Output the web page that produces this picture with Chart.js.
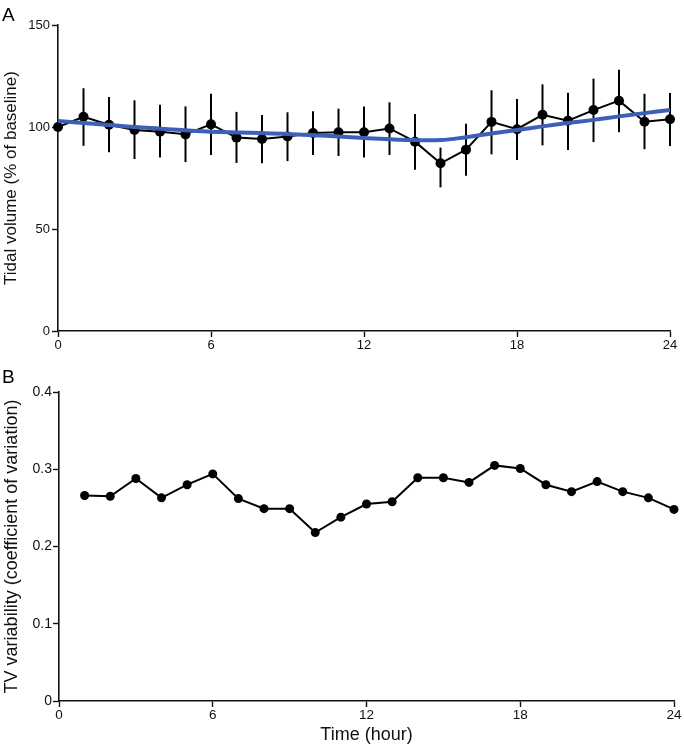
<!DOCTYPE html>
<html>
<head>
<meta charset="utf-8">
<script src="https://cdn.jsdelivr.net/npm/chart.js@4.4.1/dist/chart.umd.min.js"></script>
<style>
  html, body { margin: 0; padding: 0; background: #fff; }
  #wrap { position: relative; width: 684px; height: 746px; overflow: hidden; }
  canvas { position: absolute; left: 0; }
  #c1 { top: 0; }
  #c2 { top: 360px; }
</style>
</head>
<body>
<div id="wrap">
  <canvas id="c1" width="684" height="360"></canvas>
  <canvas id="c2" width="684" height="386"></canvas>
</div>
<script>
// ---- Data ----
const hours = [0,1,2,3,4,5,6,7,8,9,10,11,12,13,14,15,16,17,18,19,20,21,22,23,24];
const tidalVolume = [100, 105, 101.1, 98.5, 97.7, 96.4, 101.3, 94.8, 94.1, 95.3, 97.1, 97.4, 97.4, 99.3, 92.8, 82.2, 88.9, 102.5, 98.9, 106, 103.1, 108.3, 112.9, 102.6, 103.8];
const tidalUpper = [null, 119, 114.7, 113.1, 110.9, 110.1, 116.3, 107.4, 105.9, 107.2, 107.7, 109, 110, 112.1, 106.4, 89.9, 101.6, 118, 113.7, 120.9, 116.8, 123.7, 128.1, 116.3, 116.7];
const tidalLower = [null, 90.8, 87.6, 84.3, 85.1, 82.8, 86.3, 82.4, 82.2, 83.3, 86.3, 85.8, 85, 86.3, 79.1, 70.4, 76.1, 86.6, 83.8, 91, 88.7, 92.6, 97.4, 89.1, 90.7];
const tidalFit = [103, 102, 101, 100, 99.2, 98.4, 97.7, 97.3, 97, 96.6, 96, 95.3, 94.6, 94, 93.6, 93.6, 95, 96.8, 98.5, 100.3, 102, 103.5, 105.2, 106.8, 108.3];
const cvHours = [1,2,3,4,5,6,7,8,9,10,11,12,13,14,15,16,17,18,19,20,21,22,23,24];
const tvVariability = [0.266, 0.265, 0.288, 0.263, 0.280, 0.294, 0.262, 0.249, 0.249, 0.218, 0.238, 0.255, 0.258, 0.289, 0.289, 0.283, 0.305, 0.301, 0.280, 0.271, 0.284, 0.271, 0.263, 0.248];
const xTicks = [0, 6, 12, 18, 24];
const panelA = 'A';
const panelB = 'B';
const titleA = 'Tidal volume (% of baseline)';
const titleB = 'TV variability (coefficient of variation)';
const titleX = 'Time (hour)';

const FONT = '"Liberation Sans", Arial, Helvetica, sans-serif';
Chart.defaults.font.family = FONT;
Chart.defaults.color = '#111';

const toXY = (xs, ys) => xs.map((x, i) => ({x: x, y: ys[i]}));

function panelLabelPlugin(text, x, y) {
  return {
    id: 'panelLabel' + text,
    afterDraw(chart) {
      const ctx = chart.ctx;
      ctx.save();
      ctx.font = '19px ' + FONT;
      ctx.fillStyle = '#000';
      ctx.textAlign = 'left';
      ctx.textBaseline = 'alphabetic';
      ctx.fillText(text, x, y);
      ctx.restore();
    }
  };
}

const errorBarPlugin = {
  id: 'errorBars',
  beforeDatasetsDraw(chart) {
    const xs = chart.scales.x, ys = chart.scales.y, ctx = chart.ctx;
    ctx.save();
    ctx.strokeStyle = '#000';
    ctx.lineWidth = 2;
    hours.forEach((h, i) => {
      if (tidalUpper[i] == null || tidalLower[i] == null) return;
      const px = xs.getPixelForValue(h);
      ctx.beginPath();
      ctx.moveTo(px, ys.getPixelForValue(tidalUpper[i]));
      ctx.lineTo(px, ys.getPixelForValue(tidalLower[i]));
      ctx.stroke();
    });
    ctx.restore();
  }
};

function axisCommon(extra) {
  return Object.assign({
    border: { display: true, color: '#111', width: 1.6 },
    grid: { display: true, drawOnChartArea: false, drawTicks: true, tickLength: 6, tickColor: '#111', tickWidth: 1.4 },
  }, extra);
}

// ---- Chart A ----
new Chart(document.getElementById('c1'), {
  type: 'line',
  data: {
    datasets: [
      {
        label: 'Fit',
        data: toXY(hours, tidalFit),
        borderColor: '#3d5fb8',
        borderWidth: 4,
        pointRadius: 0,
        tension: 0.4,
        fill: false,
        order: 0,
        clip: false
      },
      {
        label: 'Tidal volume',
        data: toXY(hours, tidalVolume),
        borderColor: '#000',
        backgroundColor: '#000',
        borderWidth: 2,
        pointRadius: 5,
        pointBackgroundColor: '#000',
        pointBorderWidth: 0,
        tension: 0,
        fill: false,
        order: 1,
        clip: false
      }
    ]
  },
  options: {
    responsive: false,
    animation: false,
    layout: { padding: { left: 0, right: 14, top: 25, bottom: 0 } },
    plugins: { legend: { display: false }, tooltip: { enabled: false } },
    scales: {
      x: axisCommon({
        type: 'linear', min: 0, max: 24,
        afterBuildTicks: s => { s.ticks = xTicks.map(v => ({value: v})); },
        ticks: { font: { size: 13 }, padding: 1, color: '#111', maxRotation: 0 },
        afterFit: s => { s.height = 29; }
      }),
      y: axisCommon({
        type: 'linear', min: 0, max: 150,
        ticks: { stepSize: 50, font: { size: 13 }, padding: 2, color: '#111' },
        title: { display: true, text: titleA, font: { size: 17 }, padding: { top: 1, bottom: 0 }, color: '#111' },
        afterFit: s => { s.width = 58; }
      })
    }
  },
  plugins: [errorBarPlugin, panelLabelPlugin(panelA, 2, 21)]
});

// ---- Chart B ----
new Chart(document.getElementById('c2'), {
  type: 'line',
  data: {
    datasets: [
      {
        label: 'TV variability',
        data: toXY(cvHours, tvVariability),
        borderColor: '#000',
        backgroundColor: '#000',
        borderWidth: 2,
        pointRadius: 4.5,
        pointBackgroundColor: '#000',
        pointBorderWidth: 0,
        tension: 0,
        fill: false,
        clip: false
      }
    ]
  },
  options: {
    responsive: false,
    animation: false,
    layout: { padding: { left: 0, right: 10, top: 32, bottom: 0 } },
    plugins: { legend: { display: false }, tooltip: { enabled: false } },
    scales: {
      x: axisCommon({
        type: 'linear', min: 0, max: 24,
        afterBuildTicks: s => { s.ticks = xTicks.map(v => ({value: v})); },
        ticks: { font: { size: 13.5 }, padding: 0, color: '#111', maxRotation: 0 },
        title: { display: true, text: titleX, font: { size: 18 }, padding: { top: 0, bottom: 0 }, color: '#111' },
        afterFit: s => { s.height = 45; }
      }),
      y: axisCommon({
        type: 'linear', min: 0, max: 0.4,
        ticks: { stepSize: 0.1, font: { size: 14 }, padding: 1, color: '#111' },
        title: { display: true, text: titleB, font: { size: 18 }, padding: { top: 1, bottom: 0 }, color: '#111' },
        afterFit: s => { s.width = 59; }
      })
    }
  },
  plugins: [panelLabelPlugin(panelB, 2, 23)]
});
</script>
</body>
</html>
